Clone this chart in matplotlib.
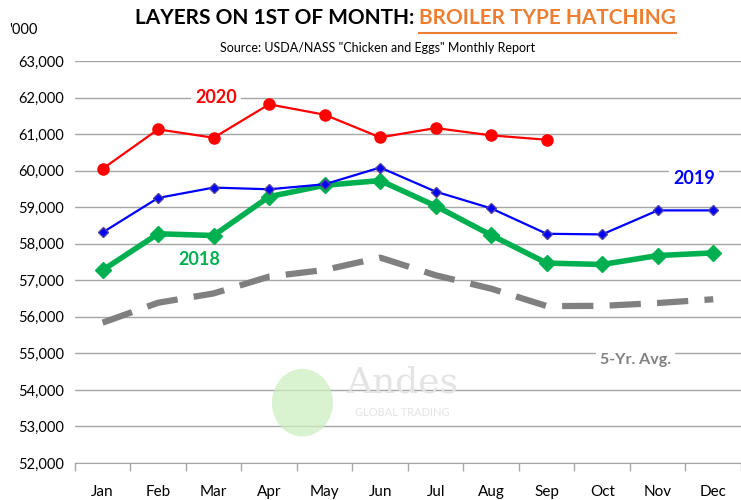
import numpy as np
import matplotlib.pyplot as plt
from matplotlib.patches import Ellipse

plt.rcParams['font.family'] = ['Lato', 'DejaVu Sans']

months = ["Jan", "Feb", "Mar", "Apr", "May", "Jun", "Jul", "Aug", "Sep", "Oct", "Nov", "Dec"]
avg5 = [55840, 56385, 56640, 57100, 57283, 57620, 57137, 56770, 56294, 56300, 56377, 56480]
y2018 = [57275, 58272, 58225, 59288, 59599, 59728, 59033, 58234, 57470, 57432, 57676, 57750]
y2019 = [58308, 59253, 59536, 59490, 59627, 60085, 59426, 58967, 58272, 58255, 58912, 58912]
y2020 = [60050, 61130, 60900, 61815, 61530, 60910, 61165, 60965, 60845]

fig = plt.figure(figsize=(7.41, 5.0), dpi=100)
ax = fig.add_axes([0.101, 0.074, 0.899, 0.804])
x = np.arange(len(months))

ax.plot(x, avg5, color="#808080", lw=4.5, dashes=(5, 2.6), zorder=3)
ax.plot(x, y2018, color="#00B050", lw=4, marker="D", ms=8, zorder=4)
ax.plot(x, y2019, color="#0000FF", lw=1.6, marker="D", ms=5,
        mfc="#0000FF", mec="#5040A0", zorder=5)
ax.plot(np.arange(len(y2020)), y2020, color="#FF0000", lw=1.6, marker="o", ms=8, zorder=6)

ax.set_xlim(-0.5, 11.5)
ax.set_ylim(52000, 63000)
ax.set_yticks(np.arange(52000, 63001, 1000))
ax.set_yticklabels([f"{v:,}" for v in range(52000, 63001, 1000)], fontsize=10.5)
ax.yaxis.grid(True, color="#A6A6A6", lw=1)
ax.set_axisbelow(True)
ax.tick_params(axis="y", length=0, pad=8)

ax.set_xticks(x)
ax.set_xticklabels(months, fontsize=11)
ax.tick_params(axis="x", length=0, pad=16)
ax.set_xticks(np.arange(-0.5, 12, 1), minor=True)
ax.tick_params(axis="x", which="minor", length=6, color="#A6A6A6", width=1)

for s in ["left", "right", "top"]:
    ax.spines[s].set_visible(False)
ax.spines["bottom"].set_color("#A6A6A6")

# watermark
wm = Ellipse((3.6, 53650), 1.1, 1850, color="#cdeec0", alpha=0.75, zorder=1, lw=0)
ax.add_patch(wm)
ax.text(5.4, 54200, "Andes", fontsize=26, family="DejaVu Serif", color="#e4e4e4",
        ha="center", va="center", zorder=1)
ax.text(5.4, 53380, "GLOBAL TRADING", fontsize=8, color="#e4e4e4",
        ha="center", va="center", zorder=1)

box = dict(facecolor="white", edgecolor="none", pad=3)
ax.text(2.05, 62000, "2020", color="#FF0000", fontsize=13, fontweight="bold",
        ha="center", va="center", bbox=box, zorder=7)
ax.text(10.65, 59780, "2019", color="#0000FF", fontsize=13, fontweight="bold",
        ha="center", va="center", bbox=box, zorder=7)
ax.text(1.75, 57560, "2018", color="#00B050", fontsize=13, fontweight="bold",
        ha="center", va="center", bbox=box, zorder=7)
ax.text(9.6, 54830, "5-Yr. Avg.", color="#808080", fontsize=11.5, fontweight="bold",
        ha="center", va="center", bbox=box, zorder=7)

fig.text(0.032, 0.94, "'000", fontsize=10.5, ha="center", va="center")

t1 = fig.text(0.566, 0.963, "LAYERS ON 1ST OF MONTH: ", fontsize=15, fontweight="bold",
              ha="right", va="center")
t2 = fig.text(0.566, 0.963, "BROILER TYPE HATCHING", fontsize=15, fontweight="bold",
              color="#ED7D31", ha="left", va="center")
fig.canvas.draw()
bb = t2.get_window_extent()
x0, x1 = bb.x0 / fig.bbox.width, bb.x1 / fig.bbox.width
fig.add_artist(plt.Line2D([x0, x1], [0.934, 0.934], color="#ED7D31", lw=1.5))

fig.text(0.51, 0.905, 'Source: USDA/NASS "Chicken and Eggs" Monthly Report', fontsize=9,
         ha="center", va="center")

fig.savefig("out.png", dpi=100)
